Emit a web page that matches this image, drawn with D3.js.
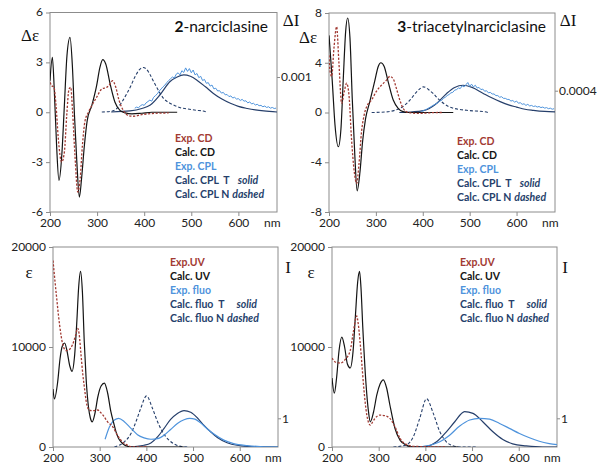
<!DOCTYPE html>
<html><head><meta charset="utf-8">
<script src="https://cdn.jsdelivr.net/npm/d3@7"></script>
<style>body{margin:0;background:#fff}svg{display:block}</style>
</head><body><svg id="c" width="597" height="464"></svg>
<script>
// ---------- tick labels ----------
const xTicks = [200, 300, 400, 500, 600];
const cdTicksA = [-6, -3, 0, 3, 6];
const cplTicksA = [0.001];
const cdTicksB = [-8, -4, 0, 4, 8];
const cplTicksB = [0.0004];
const uvTicks = [0, 10000, 20000];
const fluoTicks = [1];
const cdLegend = ["Exp. CD", "Calc. CD", "Exp. CPL", "Calc. CPL  T", "Calc. CPL N"];
const uvLegend = ["Exp.UV", "Calc. UV", "Exp. fluo", "Calc. fluo  T", "Calc. fluo N"];
const legendSuffix = ["", "", "", "solid", "dashed"];

// ---------- panel A : 2-narciclasine (CD / CPL) ----------
const a_calcCD = [[200,1.9],[205,3.3],[209,1.4],[214,-2.0],[219,-4.1],[225,-2.6],[230.5,0.4],[236,3.4],[242.5,4.5],[247.5,2.8],[252,-0.2],[257,-3.0],[262.4,-5.1],[267,-4.0],[273,-2.0],[279,-0.5],[288.7,0.4],[299,1.6],[306,2.7],[312,3.16],[318.4,2.9],[327.7,1.7],[338,0.6],[349,0.1],[359.6,-0.04],[374,-0.1],[395,-0.06],[416,0],[470,0]];
const a_expCD = [[200,1.8],[203.5,1.6],[208.5,1.5],[212.8,0.4],[217.7,-1.6],[224.8,-3.0],[230.5,-2.4],[235.5,-0.2],[240.4,1.4],[244,1.5],[248,0],[253,-2.6],[259,-4.8],[264,-4.0],[268.8,-2.0],[274.5,-0.5],[281.6,0],[288.7,0.4],[299,0.9],[310,1.4],[320.6,1.5],[327.7,1.7],[333,1.9],[339.7,1.5],[346.8,0.7],[356,0.1],[366.7,-0.2],[377,-0.24],[395,-0.14],[416,-0.08],[452,-0.04]];
const a_expCPL = [[380,0.00011],[384,0.00014],[388,0.00012],[392,0.00018],[396,0.00021],[400,0.00019],[404,0.00026],[408,0.00030],[412,0.00034],[416,0.00031],[420,0.00042],[424,0.00047],[428,0.00052],[432,0.00060],[436,0.00066],[440,0.00072],[444,0.00077],[448,0.00084],[452,0.00090],[456,0.00095],[460,0.00100],[464,0.00097],[468,0.00108],[472,0.00112],[476,0.00106],[480,0.00118],[484,0.00113],[488,0.00126],[492,0.00116],[496,0.00124],[500,0.00112],[504,0.00120],[508,0.00106],[512,0.00110],[516,0.00098],[520,0.00102],[524,0.00090],[528,0.00093],[532,0.00082],[536,0.00084],[540,0.00074],[544,0.00077],[548,0.00066],[552,0.00068],[556,0.00060],[560,0.00061],[564,0.00054],[568,0.00056],[572,0.00049],[576,0.00050],[580,0.00044],[584,0.00046],[588,0.00040],[592,0.00042],[596,0.00037],[600,0.00038],[604,0.00033],[608,0.00036],[612,0.00031],[616,0.00032],[620,0.00026],[624,0.00029],[628,0.00023],[632,0.00025],[636,0.00020],[640,0.00022],[644,0.00018],[648,0.00019],[652,0.00015],[656,0.00017],[660,0.00013],[664,0.00015],[668,0.00011],[672,0.00013],[676,0.00010],[680,0.00011]];
const a_calcCPL_T = [[330,0],[370,0.00003],[395,0.0001],[413,0.0002],[434,0.0005],[455,0.00087],[470,0.001],[484,0.00106],[498,0.00102],[512,0.00091],[530,0.00072],[547,0.00053],[565,0.00037],[583,0.00025],[600,0.00016],[619,0.0001],[636,0.00006],[654,0.00003],[682,0]];
const a_calcCPL_N = [[310,0],[330,0.00002],[340,0.00008],[352,0.00027],[362,0.0005],[370,0.0007],[381,0.00102],[390,0.00121],[398,0.00127],[405,0.00122],[412,0.00108],[420,0.00087],[430,0.00062],[441,0.00039],[452,0.00027],[462,0.0002],[475,0.00013],[491,0.00009],[510,0.00005],[525,0.00003],[533,0]];

// ---------- panel B : 3-triacetylnarciclasine (CD / CPL) ----------
const b_calcCD = [[200,6.2],[202,5.2],[207,2.5],[212.8,-1.0],[219.9,-2.75],[225.5,-1.3],[230.5,2.75],[235.5,6.5],[239.7,7.6],[244.7,6.0],[249.6,1.1],[255,-3.4],[260,-6.3],[266,-4.8],[271.6,-2.35],[278,-0.5],[287,0.87],[298,2.6],[305,3.7],[310.6,4.0],[317.7,3.7],[326,2.5],[337,1.0],[347.5,0.34],[358,0.07],[368.8,0],[465,0]];
const b_expCD = [[200,4.6],[202,3.4],[205.7,2.9],[210.6,5.2],[216.3,6.9],[221,4.1],[227,0.74],[232.6,1.7],[237.6,2.35],[242.6,1.4],[248,-2.1],[254,-4.8],[259,-5.7],[263.8,-4.2],[269.5,-1.5],[275,-0.2],[282,0.6],[290.8,1.0],[301,1.7],[312,2.2],[322.7,2.6],[330,2.9],[337,2.7],[344,1.9],[351,1.0],[358,0.34],[368.8,0],[390,-0.07],[432.6,0],[443,0]];
const b_expCPL = [[396,0.00001],[400,0.00003],[404,0.00004],[408,0.00006],[412,0.00008],[416,0.00010],[420,0.00012],[424,0.00014],[428,0.00016],[432,0.00018],[436,0.00021],[440,0.00022],[444,0.00026],[448,0.00028],[452,0.00031],[456,0.00033],[460,0.00036],[464,0.00037],[468,0.00041],[472,0.00042],[476,0.00045],[480,0.00044],[484,0.00049],[488,0.00047],[492,0.00051],[496,0.00055],[500,0.00048],[504,0.00052],[508,0.00047],[512,0.00050],[516,0.00045],[520,0.00046],[524,0.00042],[528,0.00043],[532,0.00039],[536,0.00040],[540,0.00036],[544,0.00037],[548,0.00034],[552,0.00034],[556,0.00031],[560,0.00031],[564,0.00028],[568,0.00029],[572,0.00026],[576,0.00026],[580,0.00024],[584,0.00024],[588,0.00021],[592,0.00022],[596,0.00019],[600,0.00021],[604,0.00017],[608,0.00018],[612,0.00015],[616,0.00016],[620,0.00013],[624,0.00015],[628,0.00012],[632,0.00013],[636,0.00011],[640,0.00012],[644,0.00010],[648,0.00011],[652,0.00009],[656,0.00010],[660,0.00008],[664,0.00009],[668,0.00007],[672,0.00008],[676,0.00006],[680,0.00007]];
const b_calcCPL_T = [[350,0],[390,0.00002],[408,0.00005],[430,0.00017],[451,0.00035],[468,0.00046],[486,0.0005],[505,0.00046],[529,0.00035],[547,0.00027],[565,0.0002],[583,0.00014],[600,0.0001],[618,0.00006],[636,0.00004],[660,0.00002],[682,0.00001]];
const b_calcCPL_N = [[291,0],[320,0.00001],[340,0.00004],[358,0.00011],[373,0.00023],[385,0.00036],[393,0.00043],[401,0.00047],[408,0.00045],[415,0.0004],[422,0.00035],[433,0.00025],[444,0.00017],[455,0.00011],[465,0.00008],[494,0.00004],[536,0.00001],[539,0]];

// ---------- panel C : 2-narciclasine (UV / fluo) ----------
const c_calcUV = [[200,5800],[203,4800],[210,6500],[215,8800],[220,10100],[225,10400],[230,9600],[236,8100],[241,7560],[246,9000],[251,12500],[255,16000],[259,17570],[263,15500],[267,10500],[271,6800],[276,4000],[280,2900],[284,2520],[290,3400],[296,5000],[303,6100],[310,6380],[317,5400],[324,3530],[330,2400],[335,1510],[340,900],[346,500],[353,200],[360,70],[370,0],[480,0]];
const c_expUV = [[200,18650],[207,15290],[214,12260],[221,10250],[228,9640],[235,9740],[242,10250],[248,11100],[253,11860],[256,11300],[260,9240],[264,7200],[267.5,5880],[271,4600],[275,3860],[280,3650],[285,3630],[290,3660],[296,3700],[301,3500],[307,3190],[317,2520],[328,2020],[338,1180],[349,500],[360,170],[371,0],[400,0]];
const c_expFluo = [[311.6,0.27],[320.8,0.70],[331.5,0.94],[340.7,1.0],[352.8,0.88],[367,0.65],[381,0.43],[395,0.32],[409.7,0.27],[424,0.29],[438,0.41],[452,0.61],[466.5,0.82],[480.7,0.95],[493,1.0],[504,0.97],[516,0.84],[530.5,0.63],[544.7,0.45],[566,0.24],[587,0.12],[616,0.05],[644,0.015],[682,0]];
const c_calcFluoT = [[360,0],[395,0.06],[409.7,0.14],[424,0.35],[438,0.65],[452,0.96],[466.5,1.17],[480.7,1.27],[495,1.21],[509,1.02],[523,0.76],[537.6,0.53],[552,0.33],[573,0.15],[594,0.06],[630,0.01],[682,0]];
const c_calcFluoN = [[331.5,0],[352.8,0.18],[367,0.47],[377.7,0.88],[388,1.35],[400.4,1.78],[413,1.35],[424,0.88],[434.5,0.53],[449,0.23],[463,0.08],[477,0.01],[488,0]];

// ---------- panel D : 3-triacetylnarciclasine (UV / fluo) ----------
const d_calcUV = [[200,6890],[205,5380],[210,7000],[215,9600],[221,10990],[227,10000],[233,8300],[239,7900],[245,9500],[250,13000],[255,16500],[259,17570],[262,16000],[266,11930],[273,6220],[278,3600],[282,2520],[289,3500],[296,5210],[303,6300],[310,6720],[317,5900],[324,4200],[335,1850],[346,670],[360,170],[372,0],[470,0]];
const d_expUV = [[200,8900],[207,8500],[218,8400],[228,8740],[239,9640],[246,11590],[253,13100],[256,12400],[260,10580],[264,8300],[267.5,6220],[271,4500],[274.6,3190],[282,2180],[287,2500],[292,2860],[303,3190],[314,3120],[324,2860],[335,2020],[346,840],[360,240],[374,70],[402.5,30],[445,0]];
const d_expFluo = [[388,0],[409.7,0.06],[431,0.18],[452,0.41],[473.6,0.73],[495,0.94],[516,1.0],[537.6,0.97],[559,0.82],[580,0.65],[601.6,0.47],[623,0.32],[644,0.2],[665.5,0.12],[682,0.08]];
const d_calcFluoT = [[360,0],[402.5,0.02],[424,0.18],[445,0.53],[463,0.88],[484,1.23],[502,1.17],[523,0.88],[544.7,0.53],[566,0.26],[587,0.11],[616,0.04],[651,0],[682,0]];
const d_calcFluoN = [[331.5,0],[360,0.08],[374,0.35],[388,1.0],[402.5,1.68],[417,1.17],[431,0.53],[445,0.18],[459,0.04],[473.6,0],[509,0]];

// ---------- styling ----------
const RED = "#a23a33", BLACK = "#141414", LIGHT = "#4e93dc", DARK = "#263f6b", GRAY = "#8c8c8c";
const SANS = "Lato, 'Open Sans', sans-serif", SERIF = "'Liberation Serif', 'DejaVu Serif', serif";
const svg = d3.select("#c");
svg.append("rect").attr("width", 597).attr("height", 464).attr("fill", "#fff");

function panel(o) {
  const x = d3.scaleLinear().domain([200, 682]).range([o.left, o.right]);
  const yL = d3.scaleLinear().domain(o.yDomain).range([o.bottom, o.top]);
  const yR = d3.scaleLinear().domain([0, o.rTick]).range([o.rZero, o.rTickY]);
  const g = svg.append("g");
  const cid = "clip" + o.id;
  svg.append("clipPath").attr("id", cid).append("rect")
    .attr("x", o.left).attr("y", o.top).attr("width", o.right - o.left).attr("height", o.bottom - o.top);

  const ax = g.append("g").attr("transform", `translate(0,${o.bottom})`)
    .call(d3.axisBottom(x).tickValues(xTicks).tickSize(4).tickPadding(2).tickFormat(d3.format("d")));
  const ayL = g.append("g").attr("transform", `translate(${o.left},0)`)
    .call(d3.axisLeft(yL).tickValues(o.yTicks).tickSize(4).tickPadding(3).tickFormat(d => String(d)));
  const ayR = g.append("g").attr("transform", `translate(${o.right},0)`)
    .call(d3.axisRight(yR).tickValues(o.rTicks).tickSize(3).tickPadding(1).tickFormat(d => String(d)));
  [ax, ayL, ayR].forEach(a => {
    a.select(".domain").remove();
    a.selectAll("line").attr("stroke", GRAY);
    a.selectAll("text").attr("fill", "#222").style("font-family", SANS).style("font-size", "12px");
  });
  ayL.selectAll(".tick text").attr("dy", "0.28em");
  ax.selectAll(".tick text").attr("dy", "0.78em");
  g.append("rect").attr("x", o.left).attr("y", o.top).attr("width", o.right - o.left).attr("height", o.bottom - o.top)
    .attr("fill", "none").attr("stroke", GRAY).attr("stroke-width", 1);
  g.append("text").attr("x", o.right - 13).attr("y", o.bottom + 6).attr("dy", "0.78em")
    .style("font-family", SANS).style("font-size", "12px").attr("fill", "#222").text("nm");

  const cg = g.append("g").attr("clip-path", `url(#${cid})`);
  const lineL = c => d3.line().x(d => x(d[0])).y(d => yL(d[1])).curve(c);
  const lineR = c => d3.line().x(d => x(d[0])).y(d => yR(d[1])).curve(c);
  const smooth = d3.curveMonotoneX;
  cg.append("path").datum(o.calcT).attr("d", lineR(smooth)).attr("fill", "none").attr("stroke", DARK).attr("stroke-width", 1.2);
  cg.append("path").datum(o.calcN).attr("d", lineR(smooth)).attr("fill", "none").attr("stroke", DARK).attr("stroke-width", 1.1).attr("stroke-dasharray", "3,2");
  cg.append("path").datum(o.exp2).attr("d", lineR(o.noisy ? d3.curveLinear : smooth)).attr("fill", "none").attr("stroke", LIGHT).attr("stroke-width", o.noisy ? 1 : 1.2);
  cg.append("path").datum(o.calc1).attr("d", lineL(smooth)).attr("fill", "none").attr("stroke", BLACK).attr("stroke-width", 1.2);
  cg.append("path").datum(o.exp1).attr("d", lineL(smooth)).attr("fill", "none").attr("stroke", RED).attr("stroke-width", 1.3).attr("stroke-dasharray", "2.2,1.6");

  const colors = [RED, BLACK, LIGHT, DARK, DARK];
  o.legend.forEach((t, i) => {
    const tx = g.append("text").attr("x", o.legX).attr("y", o.legY + i * 14).attr("dy", "0.35em")
      .style("font-family", SANS).style("font-size", "10.5px").style("font-weight", "bold").attr("fill", colors[i])
      .attr("xml:space", "preserve").text(t);
    if (legendSuffix[i]) {
      tx.append("tspan").attr("dx", i === 3 ? o.solidDx : 3).style("font-style", "italic").text(legendSuffix[i]);
    }
  });

  if (o.title) {
    const t = g.append("text").attr("x", o.right - 9).attr("y", o.top + 14).attr("dy", "0.35em").attr("text-anchor", "end")
      .style("font-family", SANS).style("font-size", "15.5px").attr("fill", "#111");
    t.append("tspan").style("font-weight", "bold").text(o.title[0]);
    t.append("tspan").text(o.title[1]);
  }
  g.append("text").attr("x", o.yNameX).attr("y", o.yNameY).attr("dy", "0.35em").attr("text-anchor", "middle")
    .style("font-family", SERIF).style("font-size", "17px").attr("fill", "#111").text(o.yName);
  g.append("text").attr("x", o.rNameX).attr("y", o.rNameY).attr("dy", "0.35em").attr("text-anchor", "middle")
    .style("font-family", SERIF).style("font-size", "17px").attr("fill", "#111").text(o.rName);
}

panel({id: "A", left: 50, right: 277, top: 12.5, bottom: 212, yDomain: [-6, 6], yTicks: cdTicksA,
  rTick: 0.001, rZero: 112, rTickY: 77, rTicks: cplTicksA,
  exp1: a_expCD, calc1: a_calcCD, exp2: a_expCPL, calcT: a_calcCPL_T, calcN: a_calcCPL_N, noisy: true,
  legend: cdLegend, legX: 175, legY: 138, solidDx: 8, title: ["2", "-narciclasine"],
  yName: "Δε", yNameX: 30, yNameY: 35, rName: "ΔI", rNameX: 291, rNameY: 20});
panel({id: "B", left: 329, right: 555, top: 13, bottom: 212, yDomain: [-8, 8], yTicks: cdTicksB,
  rTick: 0.0004, rZero: 112.5, rTickY: 90.7, rTicks: cplTicksB,
  exp1: b_expCD, calc1: b_calcCD, exp2: b_expCPL, calcT: b_calcCPL_T, calcN: b_calcCPL_N, noisy: true,
  legend: cdLegend, legX: 457, legY: 141, solidDx: 8, title: ["3", "-triacetylnarciclasine"],
  yName: "Δε", yNameX: 308, yNameY: 37, rName: "ΔI", rNameX: 568, rNameY: 20});
panel({id: "C", left: 53, right: 278, top: 247, bottom: 447, yDomain: [0, 20000], yTicks: uvTicks,
  rTick: 1, rZero: 447, rTickY: 418.3, rTicks: fluoTicks,
  exp1: c_expUV, calc1: c_calcUV, exp2: c_expFluo, calcT: c_calcFluoT, calcN: c_calcFluoN, noisy: false,
  legend: uvLegend, legX: 170, legY: 262, solidDx: 12, title: null,
  yName: "ε", yNameX: 29, yNameY: 272, rName: "I", rNameX: 288, rNameY: 267});
panel({id: "D", left: 332, right: 557, top: 247, bottom: 447, yDomain: [0, 20000], yTicks: uvTicks,
  rTick: 1, rZero: 447, rTickY: 418.3, rTicks: fluoTicks,
  exp1: d_expUV, calc1: d_calcUV, exp2: d_expFluo, calcT: d_calcFluoT, calcN: d_calcFluoN, noisy: false,
  legend: uvLegend, legX: 460, legY: 262, solidDx: 12, title: null,
  yName: "ε", yNameX: 311, yNameY: 272, rName: "I", rNameX: 565, rNameY: 267});
</script></body></html>
